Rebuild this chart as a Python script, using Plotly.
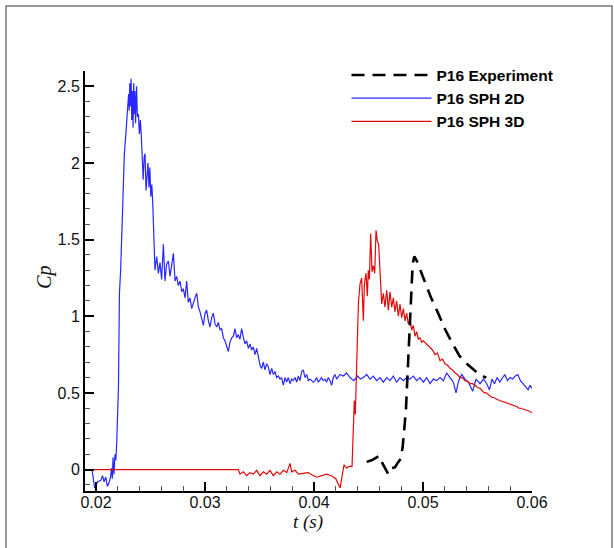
import plotly.graph_objects as go

# ---------------- data (t in s, Cp) ----------------
t_2d = [0.01963, 0.01987, 0.02016, 0.02045, 0.02060, 0.02074, 0.02089, 0.02104, 0.02118, 0.02133,
        0.02142, 0.02150, 0.02156, 0.02165, 0.02174, 0.02182, 0.02191, 0.02206, 0.02215, 0.02226,
        0.02241, 0.02250, 0.02260, 0.02272, 0.02283, 0.02299, 0.02305, 0.02310, 0.02316, 0.02322,
        0.02328, 0.02334, 0.02340, 0.02346, 0.02351, 0.02357, 0.02363, 0.02372, 0.02380, 0.02389,
        0.02398, 0.02407, 0.02416, 0.02424, 0.02433, 0.02442, 0.02450, 0.02459, 0.02468, 0.02477,
        0.02486, 0.02494, 0.02503, 0.02512, 0.02521, 0.02529, 0.02536,
        0.02541, 0.02557, 0.02572, 0.02587, 0.02602, 0.02618, 0.02633, 0.02648, 0.02664, 0.02679,
        0.02694, 0.02710, 0.02725, 0.02740, 0.02755, 0.02771, 0.02786, 0.02801, 0.02817, 0.02832,
        0.02847, 0.02862, 0.02878, 0.02893, 0.02908, 0.02924, 0.02939, 0.02954, 0.02969, 0.02985,
        0.03000, 0.03015, 0.03031, 0.03046, 0.03061, 0.03076, 0.03092, 0.03107, 0.03122, 0.03138,
        0.03153, 0.03168, 0.03183, 0.03199, 0.03214, 0.03229, 0.03245, 0.03260, 0.03275, 0.03290,
        0.03306, 0.03321, 0.03336, 0.03352, 0.03367, 0.03382, 0.03398, 0.03413, 0.03428, 0.03443,
        0.03459, 0.03474, 0.03489, 0.03505, 0.03520, 0.03535, 0.03550, 0.03566, 0.03581, 0.03596,
        0.03612, 0.03627, 0.03642, 0.03657, 0.03673, 0.03688, 0.03703, 0.03719, 0.03734, 0.03749,
        0.03764, 0.03780, 0.03795, 0.03810, 0.03826, 0.03841, 0.03856, 0.03871, 0.03887, 0.03902,
        0.03917, 0.03933, 0.03948, 0.03963, 0.03978, 0.03994, 0.04009, 0.04024, 0.04040, 0.04055,
        0.04070, 0.04085, 0.04101, 0.04116, 0.04131, 0.04147, 0.04162, 0.04177, 0.04192, 0.04208,
        0.04238, 0.04269, 0.04299, 0.04330, 0.04365, 0.04400, 0.04425,
        0.04453, 0.04483, 0.04514, 0.04544, 0.04575, 0.04606, 0.04636, 0.04667, 0.04697, 0.04728,
        0.04758, 0.04789, 0.04820, 0.04850, 0.04881, 0.04911, 0.04942, 0.04972, 0.05003, 0.05034,
        0.05064, 0.05095, 0.05125, 0.05156, 0.05187, 0.05217, 0.05248, 0.05278, 0.05303, 0.05327,
        0.05355, 0.05385, 0.05416, 0.05456, 0.05486, 0.05523, 0.05555, 0.05585, 0.05609, 0.05633,
        0.05656, 0.05680, 0.05704, 0.05728, 0.05751, 0.05775, 0.05798, 0.05822, 0.05846, 0.05870,
        0.05893, 0.05917, 0.05940, 0.05964, 0.05981, 0.06000]
cp_2d = [0.00, -0.12, -0.08, -0.07, -0.04, -0.08, -0.05, -0.11, -0.09, -0.05,
         0.01, -0.06, 0.08, -0.03, 0.10, 0.06, 0.19, 0.54, 1.15, 1.30,
         1.63, 1.89, 2.06, 2.17, 2.28, 2.45, 2.34, 2.52, 2.37, 2.55,
         2.28, 2.47, 2.23, 2.52, 2.32, 2.47, 2.26, 2.50, 2.30, 2.32,
         2.19, 2.28, 2.17, 1.97, 1.89, 2.04, 2.06, 1.82, 1.95, 2.00,
         1.84, 1.97, 1.78, 1.86, 1.73, 1.47, 1.34,
         1.30, 1.39, 1.28, 1.35, 1.24, 1.47, 1.23, 1.34, 1.36, 1.26,
         1.32, 1.41, 1.23, 1.26, 1.20, 1.23, 1.16, 1.18, 1.12, 1.23,
         1.09, 1.12, 1.05, 1.09, 1.12, 1.15, 1.06, 1.03, 0.98, 0.94,
         1.02, 1.04, 0.97, 0.93, 0.99, 1.02, 0.95, 0.93, 0.96, 0.91,
         0.92, 0.86, 0.84, 0.80, 0.77, 0.83, 0.86, 0.87, 0.92, 0.86,
         0.88, 0.85, 0.92, 0.86, 0.82, 0.84, 0.79, 0.82, 0.78, 0.80,
         0.75, 0.79, 0.74, 0.68, 0.66, 0.70, 0.65, 0.69, 0.67, 0.62,
         0.66, 0.62, 0.64, 0.60, 0.61, 0.59, 0.60, 0.55, 0.60, 0.57,
         0.60, 0.56, 0.59, 0.58, 0.60, 0.57, 0.61, 0.58, 0.64, 0.65,
         0.60, 0.62, 0.58, 0.59, 0.58, 0.57, 0.58, 0.60, 0.57, 0.59,
         0.60, 0.58, 0.59, 0.57, 0.60, 0.58, 0.55, 0.60, 0.62, 0.59,
         0.62, 0.61, 0.63, 0.60, 0.58, 0.61, 0.59,
         0.60, 0.62, 0.59, 0.61, 0.58, 0.60, 0.57, 0.60, 0.58, 0.61,
         0.57, 0.60, 0.58, 0.60, 0.59, 0.61, 0.58, 0.60, 0.57, 0.60,
         0.56, 0.59, 0.58, 0.60, 0.58, 0.63, 0.60, 0.57, 0.50, 0.58,
         0.62, 0.59, 0.57, 0.51, 0.59, 0.56, 0.59, 0.56, 0.52, 0.59,
         0.56, 0.60, 0.57, 0.60, 0.62, 0.58, 0.60, 0.59, 0.61, 0.62,
         0.58, 0.56, 0.54, 0.52, 0.55, 0.53]

t_3d = [0.01890, 0.03291, 0.03306, 0.03321, 0.03352, 0.03382, 0.03413, 0.03443, 0.03474, 0.03505,
        0.03535, 0.03566, 0.03596, 0.03627, 0.03658, 0.03688, 0.03719, 0.03750, 0.03780, 0.03795,
        0.03826, 0.03856, 0.03902, 0.03948, 0.03994, 0.04025, 0.04071, 0.04117, 0.04160, 0.04200,
        0.04240, 0.04275, 0.04300, 0.04324, 0.04349, 0.04361, 0.04370, 0.04379, 0.04393, 0.04407,
        0.04422, 0.04437, 0.04453, 0.04462, 0.04477, 0.04489, 0.04498, 0.04508, 0.04520, 0.04532,
        0.04544, 0.04557, 0.04569, 0.04581, 0.04593, 0.04606, 0.04621, 0.04636, 0.04651, 0.04667,
        0.04682, 0.04697, 0.04713, 0.04728, 0.04743, 0.04758, 0.04774, 0.04789, 0.04804, 0.04820,
        0.04835, 0.04850, 0.04865, 0.04881, 0.04896, 0.04911, 0.04927, 0.04942, 0.04957, 0.04972,
        0.04988, 0.05003, 0.05034, 0.05064, 0.05087, 0.05110, 0.05133, 0.05156, 0.05179, 0.05202,
        0.05225, 0.05248, 0.05271, 0.05294, 0.05316, 0.05339, 0.05362, 0.05385, 0.05408, 0.05431,
        0.05454, 0.05477, 0.05500, 0.05523, 0.05543, 0.05562, 0.05580, 0.05597, 0.05615, 0.05633,
        0.05650, 0.05668, 0.05686, 0.05704, 0.05722, 0.05739, 0.05757, 0.05775, 0.05793, 0.05810,
        0.05828, 0.05846, 0.05863, 0.05881, 0.05899, 0.05917, 0.05935, 0.05952, 0.05976, 0.06000]
cp_3d = [0.00, 0.00, 0.00, -0.03, -0.015, -0.04, -0.02, -0.03, -0.005, -0.04,
         -0.015, -0.03, -0.005, -0.04, -0.015, -0.03, -0.005, -0.02, 0.04, -0.015,
         -0.005, -0.03, -0.025, -0.02, -0.04, -0.05, -0.04, -0.03, -0.04, -0.06,
         -0.12, 0.03, 0.01, 0.02, 0.02, 0.23, 0.45, 0.36, 0.75, 1.08,
         1.21, 1.25, 0.97, 1.21, 1.28, 1.13, 1.30, 1.24, 1.54, 1.29,
         1.33, 1.28, 1.56, 1.49, 1.47, 1.25, 1.08, 1.15, 1.06, 1.17,
         1.04, 1.16, 1.06, 1.12, 1.03, 1.10, 1.00, 1.08, 0.99, 1.05,
         0.97, 1.02, 0.95, 0.98, 0.91, 0.94, 0.87, 0.90, 0.85, 0.86,
         0.83, 0.84, 0.82, 0.80, 0.78, 0.75, 0.76, 0.71, 0.72, 0.69,
         0.68, 0.66, 0.65, 0.63, 0.62, 0.60, 0.60, 0.58, 0.575, 0.56,
         0.56, 0.55, 0.535, 0.53, 0.515, 0.50, 0.50, 0.49, 0.48, 0.47,
         0.47, 0.46, 0.455, 0.45, 0.445, 0.44, 0.44, 0.43, 0.425, 0.42,
         0.415, 0.41, 0.41, 0.40, 0.40, 0.395, 0.39, 0.39, 0.38, 0.37]

t_exp = [0.04483, 0.04529, 0.04575, 0.04599, 0.04621, 0.04651, 0.04682, 0.04713, 0.04743, 0.04774,
         0.04795, 0.04813, 0.04826, 0.04835, 0.04844, 0.04856, 0.04868, 0.04881, 0.04893, 0.04905,
         0.04920, 0.04944, 0.04976, 0.05025, 0.05074, 0.05139, 0.05206, 0.05271, 0.05336, 0.05402,
         0.05467, 0.05532, 0.05581]
cp_exp = [0.05, 0.06, 0.08, 0.09, 0.05, 0.01, -0.03, 0.01, 0.015, 0.05,
          0.07, 0.145, 0.23, 0.32, 0.40, 0.58, 0.75, 0.97, 1.19, 1.34,
          1.39, 1.36, 1.30, 1.21, 1.12, 1.02, 0.91, 0.82, 0.74, 0.69,
          0.65, 0.61, 0.60]

x_ticks = [0.02, 0.03, 0.04, 0.05, 0.06]
x_labels = ["0.02", "0.03", "0.04", "0.05", "0.06"]
y_ticks = [0, 0.5, 1, 1.5, 2, 2.5]
y_labels = ["0", "0.5", "1", "1.5", "2", "2.5"]

# ---------------- figure ----------------
fig = go.Figure()
fig.add_trace(go.Scatter(x=t_2d, y=cp_2d, mode="lines", name="P16 SPH 2D",
                         line=dict(color="rgb(40,40,255)", width=1.2), legendrank=2))
fig.add_trace(go.Scatter(x=t_3d, y=cp_3d, mode="lines", name="P16 SPH 3D",
                         line=dict(color="rgb(225,10,10)", width=1.2), legendrank=3))
fig.add_trace(go.Scatter(x=t_exp, y=cp_exp, mode="lines", name="P16 Experiment",
                         line=dict(color="black", width=2.6, dash="13px,8px"), legendrank=1))

axis_font = dict(family="Liberation Sans, Arial, sans-serif", size=16, color="#111")
fig.update_xaxes(range=[0.01899, 0.06], tickvals=x_ticks, ticktext=x_labels,
                 ticks="inside", ticklen=9, tickwidth=2, tickcolor="black",
                 showline=True, linecolor="black", linewidth=2, showgrid=False, zeroline=False,
                 tickfont=axis_font, ticklabelstandoff=-4,
                 minor=dict(dtick=0.002, tick0=0.02, ticks="inside", ticklen=5, tickwidth=1, tickcolor="#555", showgrid=False))
fig.update_yaxes(range=[-0.14, 2.6], tickvals=y_ticks, ticktext=y_labels,
                 ticks="inside", ticklen=9, tickwidth=2, tickcolor="black",
                 showline=True, linecolor="black", linewidth=2, showgrid=False, zeroline=False,
                 tickfont=axis_font,
                 minor=dict(dtick=0.1, tick0=0, ticks="inside", ticklen=5, tickwidth=1, tickcolor="#555", showgrid=False))

fig.add_annotation(text="<i>Cp</i>", xref="paper", yref="paper", x=-0.0895, y=0.51,
                   xanchor="center", yanchor="middle", showarrow=False, textangle=-90,
                   font=dict(family="Liberation Serif, Times New Roman, serif", size=20, color="#111"))
fig.add_annotation(text="<i>t (s)</i>", xref="paper", yref="paper", x=0.499, y=-0.0738,
                   xanchor="center", yanchor="middle", showarrow=False,
                   font=dict(family="Liberation Serif, Times New Roman, serif", size=19, color="#111"))

# outer frame
fig.add_shape(type="rect", xref="paper", yref="paper", x0=-0.1767, x1=1.179, y0=-0.2, y1=1.1548,
              line=dict(color="#777", width=1.5), fillcolor="rgba(0,0,0,0)", layer="below")

fig.update_layout(
    width=614, height=548,
    margin=dict(l=85, r=82, t=71, b=57),
    paper_bgcolor="white", plot_bgcolor="white",
    showlegend=True,
    legend=dict(x=0.585, y=1.03, xanchor="left", yanchor="top", bgcolor="rgba(0,0,0,0)",
                font=dict(family="Liberation Sans, Arial, sans-serif", size=15.5, color="black", weight="bold"),
                itemwidth=80, tracegroupgap=0),
)

fig.write_html("out.html")
